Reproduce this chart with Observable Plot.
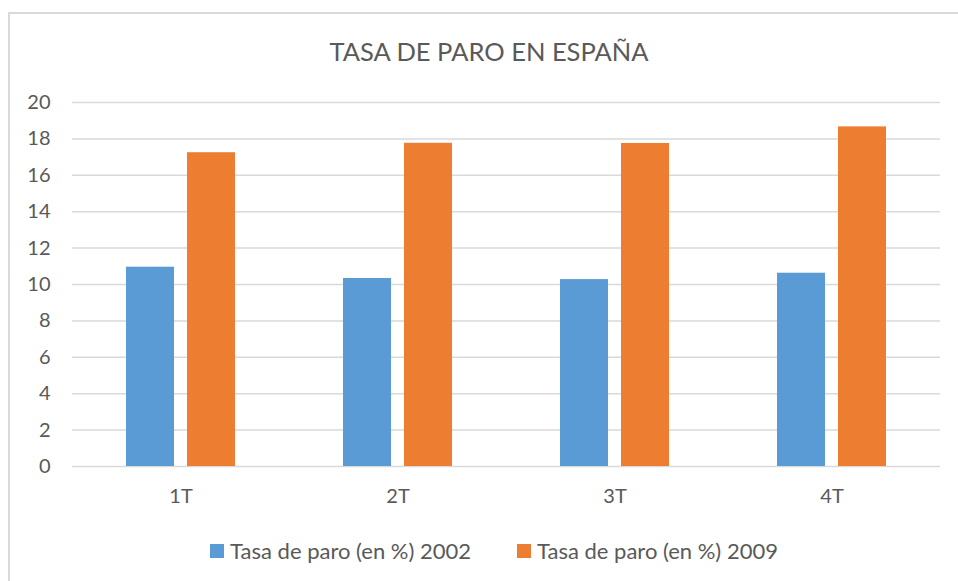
<!DOCTYPE html>
<html><head><meta charset="utf-8">
<script src="https://cdn.jsdelivr.net/npm/d3@7"></script>
<script src="https://cdn.jsdelivr.net/npm/@observablehq/plot@0.6"></script>
<style>
body{margin:0;background:#fff;font-family:Lato,"Open Sans",sans-serif;color:#595959;}
#wrap{position:relative;width:958px;height:581px;overflow:hidden;background:#fff;}
#frame{position:absolute;left:8px;top:12px;width:1000px;height:620px;border:2px solid #d9d9d9;box-sizing:border-box;}
#title{position:absolute;left:8px;width:962px;top:33px;font-size:25.5px;line-height:36px;text-align:center;white-space:nowrap;}
#chart{position:absolute;left:0;top:80px;}
#legend{position:absolute;left:8px;width:972px;top:537px;display:flex;justify-content:center;gap:46px;font-size:22px;line-height:28px;white-space:nowrap;}
.item{display:flex;align-items:center;gap:6px;}
.sw{width:14px;height:14px;display:inline-block;}
</style>
</head><body>
<div id="wrap">
  <div id="frame"></div>
  <div id="title">TASA DE PARO EN ESPAÑA</div>
  <div id="chart"></div>
  <div id="legend"></div>
</div>
<script>
const quarters = ["1T", "2T", "3T", "4T"];
const series = ["Tasa de paro (en %) 2002", "Tasa de paro (en %) 2009"];
const values2002 = [10.95, 10.33, 10.27, 10.62];
const values2009 = [17.24, 17.76, 17.75, 18.66];
const yTicks = [0, 2, 4, 6, 8, 10, 12, 14, 16, 18, 20];
const colors = ["#5b9bd5", "#ed7d31"];

const data = [];
quarters.forEach((q, i) => {
  data.push({q, s: series[0], v: values2002[i]});
  data.push({q, s: series[1], v: values2009[i]});
});

const plot = Plot.plot({
  width: 958,
  height: 440,
  marginTop: 22,
  marginBottom: 54,
  marginLeft: 72,
  marginRight: 18,
  style: {fontFamily: "Lato, 'Open Sans', sans-serif", fontSize: "20px", color: "#595959", background: "transparent"},
  fx: {domain: quarters, padding: 0, tickSize: 0, tickPadding: 22, label: null, axis: "bottom"},
  x: {domain: series, paddingInner: 0.21, paddingOuter: 0.87, axis: null},
  y: {domain: [0, 20], ticks: yTicks, tickSize: 0, tickPadding: 22, label: null, tickFormat: d => d},
  color: {domain: series, range: colors},
  marks: [
    Plot.ruleY(yTicks, {y: d => d, stroke: "#d9d9d9", strokeWidth: 1.5, strokeOpacity: 1}),
    Plot.barY(data, {fx: "q", x: "s", y: "v", fill: "s"})
  ]
});
document.getElementById("chart").appendChild(plot);

const legend = document.getElementById("legend");
series.forEach((s, i) => {
  const it = document.createElement("div");
  it.className = "item";
  const sw = document.createElement("span");
  sw.className = "sw";
  sw.style.background = colors[i];
  const t = document.createElement("span");
  t.textContent = s;
  it.appendChild(sw); it.appendChild(t);
  legend.appendChild(it);
});
</script>
</body></html>
